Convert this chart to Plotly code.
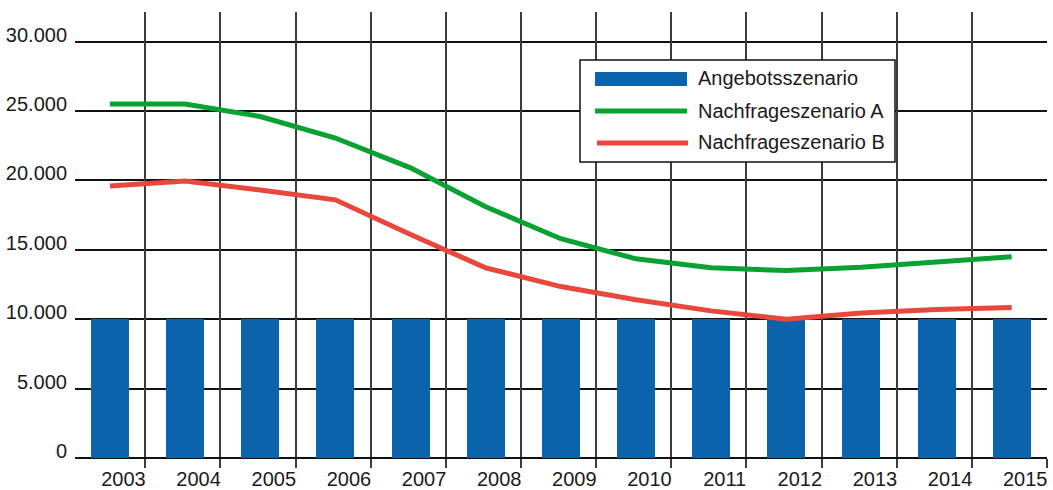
import plotly.graph_objects as go

# ---- data ----
years = [str(y) for y in range(2003, 2016)]
angebot = [10000] * 13
nachfrage_a = [25500, 25500, 24600, 23050, 20900, 18100, 15800, 14350, 13700, 13500, 13750, 14100, 14500]
nachfrage_b = [19600, 19950, 19300, 18600, 16100, 13700, 12350, 11400, 10600, 10000, 10450, 10700, 10850]
y_tick_vals = [0, 5000, 10000, 15000, 20000, 25000, 30000]
y_tick_text = ["0", "5.000", "10.000", "15.000", "20.000", "25.000", "30.000"]
series_names = ["Angebotsszenario", "Nachfrageszenario A", "Nachfrageszenario B"]

# ---- style ----
W, H = 1053, 490
ML, MR, MT, MB = 75, 6, 12, 32
BLUE = "#0B63AB"
GREEN = "#09A132"
RED = "#E8483B"
FONT = "Liberation Sans, Arial, sans-serif"
TXT = "#1a1a1a"

xpos = list(range(len(years)))
x_range = [-0.465, len(years) - 1 + 0.47]
y_range = [0, 32130]

fig = go.Figure()
fig.add_trace(go.Bar(x=xpos, y=angebot, name=series_names[0], marker=dict(color=BLUE, line=dict(width=0)),
                     width=0.505))
fig.add_trace(go.Scatter(x=xpos, y=nachfrage_a, name=series_names[1], mode="lines",
                         line=dict(color=GREEN, width=5)))
fig.add_trace(go.Scatter(x=xpos, y=nachfrage_b, name=series_names[2], mode="lines",
                         line=dict(color=RED, width=5)))
# dummy trace to anchor grid axis
fig.add_trace(go.Scatter(x=[xpos[0]], y=[None], xaxis="x2", showlegend=False, hoverinfo="skip"))

pw = W - ML - MR
ph = H - MT - MB


def px_x(px):
    return (px - ML) / pw


def px_y(py):
    return (H - MB - py) / ph


shapes = []
annotations = []
# legend box
shapes.append(dict(type="rect", xref="paper", yref="paper", x0=px_x(580), x1=px_x(895), y0=px_y(162), y1=px_y(60),
                   line=dict(color="#111", width=1.5), fillcolor="white", layer="above"))
shapes.append(dict(type="rect", xref="paper", yref="paper", x0=px_x(595), x1=px_x(687), y0=px_y(86), y1=px_y(72),
                   line=dict(width=0), fillcolor=BLUE, layer="above"))
shapes.append(dict(type="line", xref="paper", yref="paper", x0=px_x(595), x1=px_x(687), y0=px_y(111), y1=px_y(111),
                   line=dict(color=GREEN, width=5), layer="above"))
shapes.append(dict(type="line", xref="paper", yref="paper", x0=px_x(597), x1=px_x(688), y0=px_y(143), y1=px_y(143),
                   line=dict(color=RED, width=5), layer="above"))
for name, yc in zip(series_names, [78, 111, 142]):
    annotations.append(dict(text=name, xref="paper", yref="paper", x=px_x(696), y=px_y(yc), xanchor="left",
                            yanchor="middle", showarrow=False, font=dict(family=FONT, size=20, color=TXT)))

fig.update_layout(
    width=W, height=H,
    margin=dict(l=ML, r=MR, t=MT, b=MB, pad=0, autoexpand=False),
    paper_bgcolor="white", plot_bgcolor="white",
    showlegend=False,
    font=dict(family=FONT, size=20, color=TXT),
    bargap=0,
    xaxis=dict(range=x_range, tickvals=[i + 0.18 for i in xpos], ticktext=years, showgrid=False, zeroline=False,
               ticks="", showline=False, ticklabelstandoff=7, automargin=False,
               tickfont=dict(size=20, color=TXT)),
    xaxis2=dict(overlaying="x", anchor="y", side="bottom", range=x_range, tickvals=[i + 0.47 for i in xpos],
                showgrid=True, gridcolor="#3c3c3c", gridwidth=2, ticks="outside", ticklen=9, tickwidth=2,
                tickcolor="#3c3c3c", showticklabels=False, zeroline=False, showline=False, automargin=False),
    yaxis=dict(range=y_range, tickvals=y_tick_vals, ticktext=y_tick_text, showgrid=True, gridcolor="#111",
               gridwidth=2, zeroline=True, zerolinecolor="#111", zerolinewidth=2, ticks="", showline=False,
               ticklabelshift=-7, ticklabelstandoff=7, automargin=False, tickfont=dict(size=20, color=TXT)),
    shapes=shapes,
    annotations=annotations,
)

fig.write_html("out.html", config={"displayModeBar": False},
               post_script="document.body.style.margin='0';document.body.style.overflow='hidden';")
